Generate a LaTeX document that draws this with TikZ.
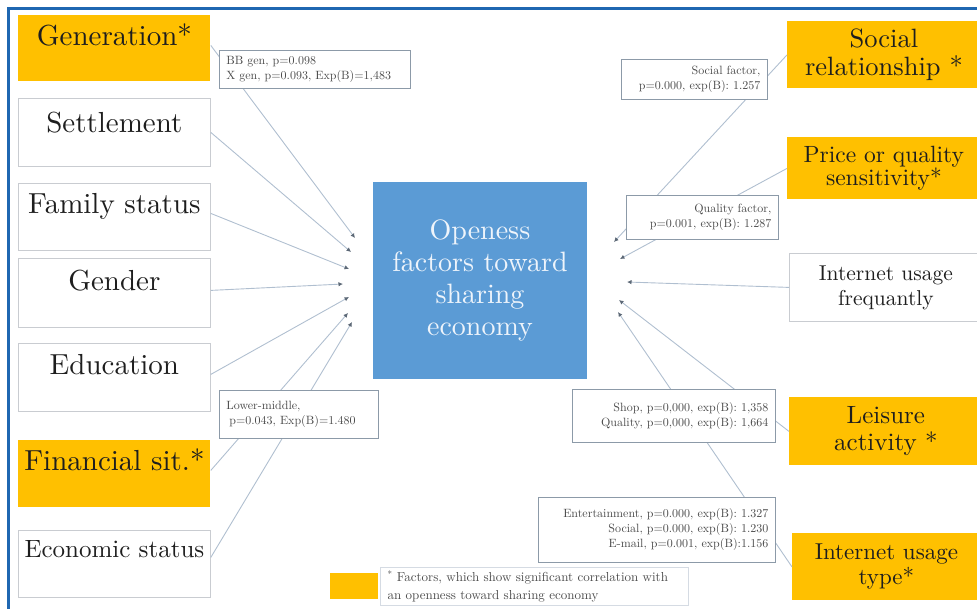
\documentclass[tikz,border=0pt]{standalone}
\usepackage{fontspec}
\setmainfont{lmroman10-regular.otf}
\usepackage{xcolor}
\usetikzlibrary{arrows.meta, positioning}

\definecolor{frameblue}{HTML}{1F67B1}
\definecolor{sigorange}{HTML}{FFC000}
\definecolor{coreblue}{HTML}{5B9BD5}
\definecolor{corewhite}{HTML}{EEF4FB}
\definecolor{boxgray}{HTML}{C9CCD1}
\definecolor{statgray}{HTML}{8C9AA8}
\definecolor{legendgray}{HTML}{D5DBE3}
\definecolor{linkblue}{HTML}{B0BFD0}
\definecolor{tipgray}{HTML}{5C6876}
\definecolor{inkgray}{HTML}{1E1E1E}
\definecolor{statink}{HTML}{4A4A4A}

\tikzset{
  factor/.style={draw=boxgray, line width=0.8pt, anchor=north west, minimum width=192pt,
    inner sep=0pt, text height=31pt, text depth=36pt, text=inkgray,
    font=\fontsize{29}{32}\selectfont},
  sigfactor/.style={factor, draw=none, fill=sigorange},
  rfactor/.style={draw=boxgray, line width=0.8pt, anchor=north west, minimum width=193pt,
    inner sep=0pt, align=center, text=inkgray},
  sigrfactor/.style={rfactor, draw=none, fill=sigorange},
  core/.style={fill=coreblue, minimum width=214pt, minimum height=197pt, align=center,
    text=corewhite, font=\fontsize{28}{32}\selectfont},
  stat/.style={draw=statgray, line width=0.7pt, fill=white, anchor=north west,
    inner xsep=7pt, inner ysep=0pt, text=statink, font=\fontsize{12}{15}\selectfont},
  link/.style={linkblue, line width=0.9pt, -{Latex[length=4.5pt, width=4.5pt, color=tipgray]}},
}

\begin{document}
\begin{tikzpicture}[x=1pt, y=-1pt]
  \useasboundingbox (0,0) rectangle (977,608);
  \draw[frameblue, line width=3pt] (8.5,620) -- (8.5,8.5) -- (990,8.5);

  % left factors
  \node[sigfactor, text height=30pt] (gen) at (18,15) {Generation*};
  \node[factor, text height=34pt, text depth=34pt] (settle) at (18,98) {Settlement};
  \node[factor, text height=30pt, text depth=37pt] (family) at (18,183) {Family status};
  \node[factor, text height=32pt, text depth=37pt] (gender) at (18,258) {Gender};
  \node[factor, text depth=37pt] (edu) at (18,343) {Education};
  \node[sigfactor, text height=30pt, text depth=37pt] (fin) at (18,440) {Financial sit.*};
  \node[factor, text height=27pt, text depth=40pt, font=\fontsize{25}{28}\selectfont] (econ) at (18,530) {Economic status};

  % right factors
  \node[sigrfactor, minimum height=67pt, font=\fontsize{26.5}{28}\selectfont] (social) at (787,21) {Social\\relationship *};
  \node[sigrfactor, minimum height=62pt, font=\fontsize{23.5}{21}\selectfont] (price) at (787,137) {Price or quality\\sensitivity*};
  \node[rfactor, minimum height=68pt, font=\fontsize{21.5}{25}\selectfont] (freq) at (789,253) {Internet usage\\frequantly};
  \node[sigrfactor, minimum height=68pt, font=\fontsize{25}{27}\selectfont] (leisure) at (789,397) {Leisure\\activity *};
  \node[sigrfactor, minimum width=188pt, minimum height=67pt, font=\fontsize{23}{25}\selectfont] (nettype) at (792,533) {Internet usage\\type*};

  \node[core] (open) at (480,280.5) {Openess\\factors toward\\sharing\\economy};

  \coordinate (inL1) at (355,238);
  \coordinate (inL2) at (351,252);
  \coordinate (inL3) at (349,269);
  \coordinate (inL4) at (343,284);
  \coordinate (inL5) at (349,297);
  \coordinate (inL6) at (348,313);
  \coordinate (inL7) at (352,322);
  \coordinate (inR1) at (614,242);
  \coordinate (inR2) at (620,259);
  \coordinate (inR3) at (627,282);
  \coordinate (inR4) at (619,300);
  \coordinate (inR5) at (618,312);

  \draw[link] (gen.base east) -- (inL1);
  \draw[link] (settle.base east) -- (inL2);
  \draw[link] (family.base east) -- (inL3);
  \draw[link] (gender.base east) -- (inL4);
  \draw[link] (edu.base east) -- (inL5);
  \draw[link] (fin.base east) -- (inL6);
  \draw[link] (econ.base east) -- (inL7);
  \draw[link] (social.west) -- (inR1);
  \draw[link] (price.west) -- (inR2);
  \draw[link] (freq.west) -- (inR3);
  \draw[link] (leisure.west) -- (inR4);
  \draw[link] (nettype.west) -- (inR5);

  % statistics over the links
  \node[stat, text width=177pt, minimum height=38pt, align=left] (genstat) at (219,50) {BB gen, p=0.098\\X gen, p=0.093, Exp(B)=1,483};
  \node[stat, text width=145pt, minimum height=48pt, align=left] (finstat) at (219,390) {Lower-middle,\\\hspace{3pt}p=0.043, Exp(B)=1.480};
  \node[stat, text width=132pt, minimum height=40pt, align=right] (socstat) at (621,59) {Social factor,\\p=0.000, exp(B): 1.257};
  \node[stat, text width=138pt, minimum height=44pt, align=right] (pricestat) at (626,195) {Quality factor,\\p=0.001, exp(B): 1.287};
  \node[stat, text width=189pt, minimum height=53pt, align=right] (leisstat) at (572,389) {Shop, p=0,000, exp(B): 1,358\\Quality, p=0,000, exp(B): 1,664};
  \node[stat, text width=223pt, minimum height=65pt, align=right] (typestat) at (538,497) {Entertainment, p=0.000, exp(B): 1.327\\Social, p=0.000, exp(B): 1.230\\E-mail, p=0.001, exp(B):1.156};

  % legend
  \node[fill=sigorange, anchor=north west, minimum width=48pt, minimum height=26pt, inner sep=0pt] (legkey) at (330,573) {};
  \node[draw=legendgray, right=2pt of legkey, text width=294pt, minimum height=38pt, inner xsep=7pt, inner ysep=0pt,
    align=left, text=statink, font=\fontsize{13}{18}\selectfont] (legtext)
    {\textsuperscript{*} Factors, which show significant correlation with\\an openness toward sharing economy};
\end{tikzpicture}
\end{document}
